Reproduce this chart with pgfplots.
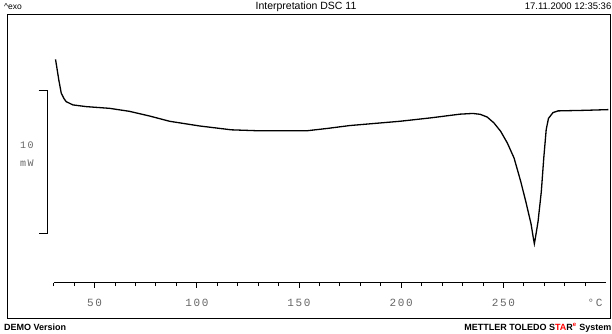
\documentclass[border=0pt]{standalone}
\usepackage{pgfplots}
\pgfplotsset{compat=1.18}
\usepackage{fontspec}
\setmainfont{Liberation Sans}
\newfontfamily\monofont[LetterSpace=15]{Liberation Mono}
\begin{document}
\begin{tikzpicture}[x=1pt,y=1pt]
\useasboundingbox (0,0) rectangle (612,333);
\fill[white] (0,0) rectangle (612,333);
\draw[line width=1pt] (7,15) rectangle (610,319);
% header
\node[anchor=base west, inner sep=0, font=\fontsize{8.5}{10}\selectfont] at (4,323.5) {\textasciicircum exo};
\node[anchor=base, inner sep=0, font=\fontsize{10.5}{12}\selectfont] at (306,323.5) {Interpretation DSC 11};
\node[anchor=base east, inner sep=0, font=\fontsize{9.5}{12}\selectfont] at (611.5,323.5) {17.11.2000 12:35:36};
% footer
\node[anchor=base west, inner sep=0, font=\bfseries\fontsize{9}{10}\selectfont] at (4,2.5) {DEMO Version};
\node[anchor=base east, inner sep=0, font=\bfseries\fontsize{9}{10}\selectfont] at (611.5,2.5) {METTLER TOLEDO S\textcolor{red}{TA}R\textsuperscript{\textcolor{red}{e}} System};
% scale label
\node[font=\monofont\fontsize{10}{12}\selectfont, text=black!60] at (27,188) {10};
\node[font=\monofont\fontsize{10}{12}\selectfont, text=black!60] at (27,170) {mW};
\node[anchor=base, inner sep=0, font=\monofont\fontsize{11}{12}\selectfont, text=black!60] at (595,26.3) {°C};
\begin{axis}[
  at={(53.7pt,50.3pt)}, anchor=south west,
  scale only axis, width=552pt, height=242.7pt,
  xmin=30, xmax=300, ymin=-3.49, ymax=13.56,
  axis x line=bottom, axis y line=none,
  axis line style={-, line width=1pt},
  xtick={50,100,150,200,250},
  xticklabels={50,100,150,200,250},
  minor xtick={30,40,...,290},
  tick align=outside, major tick length=5pt, minor tick length=3.5pt,
  tick style={line width=0.9pt, black},
  xticklabel style={font=\monofont\fontsize{11}{12}\selectfont, text=black!60, anchor=base, yshift=-19pt},
  /pgf/number format/assume math mode=true,
  clip=false,
]
\draw[line width=1pt] (axis cs:22.6,10) -- (axis cs:27.1,10) -- (axis cs:27.1,0) -- (axis cs:22.6,0);
\addplot[black, line width=1.3pt] coordinates {
(30.9,12.2) (32.5,10.75) (33.7,9.82) (35.0,9.45) (36.1,9.23) (39.4,9.00)
(45.9,8.88) (57.3,8.76) (67,8.55) (76.9,8.22) (86.7,7.85) (101.4,7.52)
(116.9,7.25) (130.8,7.18) (153.6,7.18) (164,7.35) (174.8,7.55) (199.3,7.85)
(215,8.10) (228.7,8.35) (235.0,8.40) (238.6,8.34) (242.0,8.15) (245.3,7.74)
(248.6,7.15) (251.9,6.32) (255.2,5.26) (258.5,3.59) (261.0,2.16) (263.5,0.63)
(264.6,-0.35) (265.1,-0.75) (265.6,-0.35) (266.9,0.8) (268.5,2.9) (269.7,5.26)
(270.9,7.27) (272.0,8.05) (274.2,8.46) (276.7,8.58) (289.9,8.62) (301.3,8.67)
};
\end{axis}
\end{tikzpicture}
\end{document}
